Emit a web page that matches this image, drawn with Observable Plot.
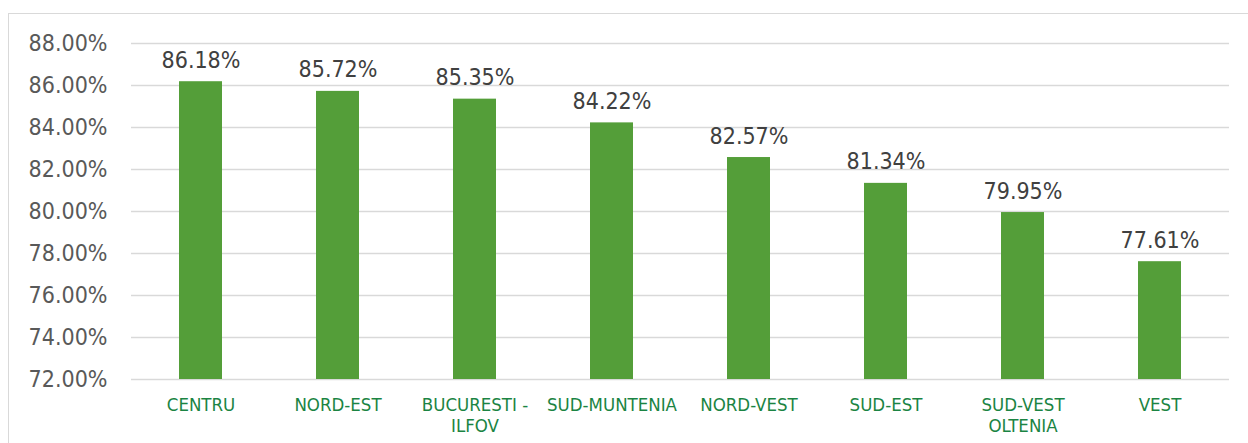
<!DOCTYPE html>
<html>
<head>
<meta charset="utf-8">
<script src="https://cdn.jsdelivr.net/npm/d3@7"></script>
<script src="https://cdn.jsdelivr.net/npm/@observablehq/plot@0.6"></script>
<style>
  html, body { margin: 0; padding: 0; background: #fff; }
  #wrap { position: relative; width: 1248px; height: 443px; overflow: hidden; }
  #border { position: absolute; left: 8px; top: 13px; width: 1250px; height: 440px; border: 1.5px solid #d9d9d9; box-sizing: border-box; }
  #chart { position: absolute; left: 0; top: 0; }
</style>
</head>
<body>
<div id="wrap"><div id="border"></div><div id="chart"></div></div>
<script>
const regions = ["CENTRU", "NORD-EST", "BUCURESTI - ILFOV", "SUD-MUNTENIA", "NORD-VEST", "SUD-EST", "SUD-VEST OLTENIA", "VEST"];
const tickLabels = ["CENTRU", "NORD-EST", "BUCURESTI -\nILFOV", "SUD-MUNTENIA", "NORD-VEST", "SUD-EST", "SUD-VEST\nOLTENIA", "VEST"];
const values = [86.18, 85.72, 85.35, 84.22, 82.57, 81.34, 79.95, 77.61];
const yTicks = [72, 74, 76, 78, 80, 82, 84, 86, 88];

const data = regions.map((r, i) => ({region: r, value: values[i]}));
const labelOf = new Map(regions.map((r, i) => [r, tickLabels[i]]));
const font = "'DejaVu Sans Condensed', 'DejaVu Sans', sans-serif";

const chart = Plot.plot({
  width: 1248,
  height: 443,
  marginLeft: 131,
  marginRight: 19,
  marginTop: 43,
  marginBottom: 64,
  style: {fontFamily: font, background: "transparent", overflow: "visible"},
  x: {domain: regions, paddingInner: 0.687, paddingOuter: 0.3435, align: 0.5, label: null},
  y: {domain: [72, 88], ticks: yTicks, label: null},
  marks: [
    Plot.gridY(yTicks, {stroke: "#d9d9d9", strokeOpacity: 1, strokeWidth: 1.5}),
    Plot.barY(data, {x: "region", y1: 72, y2: "value", fill: "#549e39"}),
    Plot.text(data, {x: "region", y: "value", text: d => d.value.toFixed(2) + "%", lineAnchor: "bottom", dy: -14, fontSize: 23, fill: "#404040", fontFamily: font}),
    Plot.axisY(yTicks, {tickSize: 0, tickPadding: 24, tickFormat: d => d.toFixed(2) + "%", fontSize: 23, fill: "#595959", fontFamily: font, label: null}),
    Plot.axisX({tickSize: 0, tickPadding: 16, tickFormat: d => labelOf.get(d), fontSize: 18.5, fill: "#1b8443", fontFamily: font, label: null, lineHeight: 1.15})
  ]
});
document.getElementById("chart").appendChild(chart);
</script>
</body>
</html>
